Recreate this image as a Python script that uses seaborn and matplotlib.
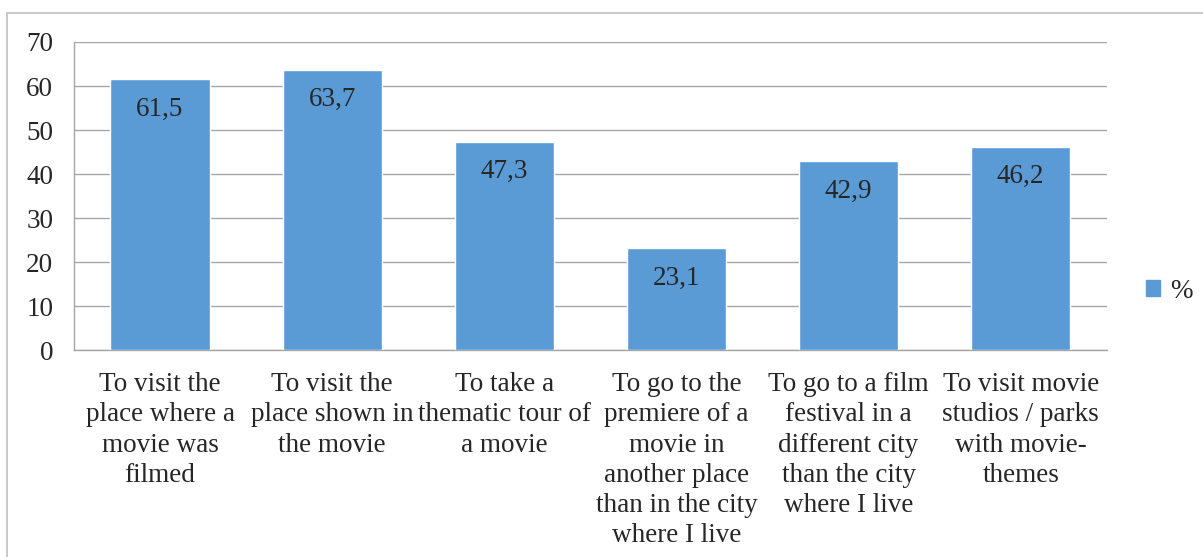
import matplotlib
matplotlib.use("Agg")
import matplotlib.pyplot as plt
import matplotlib.patches as mpatches
import seaborn as sns
import pandas as pd

# data
categories = [
    "To visit the\nplace where a\nmovie was\nfilmed",
    "To visit the\nplace shown in\nthe movie",
    "To take a\nthematic tour of\na movie",
    "To go to the\npremiere of a\nmovie in\nanother place\nthan in the city\nwhere I live",
    "To go to a film\nfestival in a\ndifferent city\nthan the city\nwhere I live",
    "To visit movie\nstudios / parks\nwith movie-\nthemes",
]
values = [61.5, 63.7, 47.3, 23.1, 42.9, 46.2]
yticks = [0, 10, 20, 30, 40, 50, 60, 70]

df = pd.DataFrame({"cat": categories, "pct": values})

sns.set_style("white")
plt.rcParams["font.family"] = ["Liberation Serif", "DejaVu Serif"]
bar_color = "#5B9BD5"
grid_color = "#a6a6a6"
fs = 19.5

fig = plt.figure(figsize=(12.03, 5.57), dpi=100)
ax = fig.add_axes([0.0615, 0.3716, 0.8585, 0.553])

sns.barplot(data=df, x="cat", y="pct", color=bar_color, width=0.576,
            saturation=1, ax=ax, zorder=3)

ax.set_ylim(0, 70)
ax.set_yticks(yticks)
ax.set_xlim(-0.5, len(categories) - 0.5)
ax.set_xlabel("")
ax.set_ylabel("")
ax.yaxis.grid(True, color=grid_color, linewidth=1)
ax.set_axisbelow(True)
for side in ["top", "right"]:
    ax.spines[side].set_visible(False)
for side in ["left", "bottom"]:
    ax.spines[side].set_color(grid_color)
    ax.spines[side].set_linewidth(1)
ax.tick_params(axis="y", length=0, pad=15, labelsize=fs)
ax.tick_params(axis="x", length=0, pad=16, labelsize=fs)
for lbl in ax.get_xticklabels():
    lbl.set_linespacing(1.27)
    lbl.set_verticalalignment("top")

# value labels inside bar tops
for i, v in enumerate(values):
    ax.annotate(f"{v:.1f}".replace(".", ","), (i, v), xytext=(0, -21.5),
                textcoords="offset points", ha="center", va="center",
                fontsize=fs, zorder=4)

# legend to the right
handle = mpatches.Patch(color=bar_color, label="%")
fig.legend(handles=[handle], loc="center left", bbox_to_anchor=(0.937, 0.477),
           frameon=False, fontsize=fs, handlelength=0.5, handleheight=0.5,
           handletextpad=0.4, borderpad=0.2)

# outer chart border
border = mpatches.Rectangle((7 / 1203, -0.1), 1.2, (557 - 13) / 557 + 0.1,
                            transform=fig.transFigure, fill=False,
                            edgecolor="#bfbfbf", linewidth=1.2)
fig.patches.append(border)

fig.savefig("out.png", dpi=100)
